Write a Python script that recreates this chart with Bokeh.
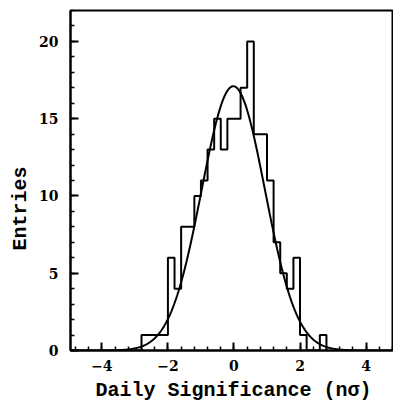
import numpy as np
from bokeh.plotting import figure
from bokeh.models import FixedTicker, Range1d, Title
from bokeh.embed import file_html
from bokeh.resources import INLINE

# Histogram data (bin width 0.2, left edges from -2.8)
bin_left = [-2.8, -2.6, -2.4, -2.2, -2.0, -1.8, -1.6, -1.4, -1.2, -1.0,
            -0.8, -0.6, -0.4, -0.2, 0.0, 0.2, 0.4, 0.6, 0.8, 1.0,
            1.2, 1.4, 1.6, 1.8, 2.0, 2.2, 2.4, 2.6]
counts = [1, 1, 1, 1, 6, 4, 8, 8, 10, 11,
          13, 15, 13, 15, 15, 17, 20, 14, 14, 11,
          7, 5, 4, 6, 1, 0, 0, 1]
bin_width = 0.2

# Gaussian fit parameters
fit_amp = 17.1
fit_mean = -0.02
fit_sigma = 0.96

x_major = [-4, -2, 0, 2, 4]
y_major = [0, 5, 10, 15, 20]

TICK_FONT = "DejaVu Serif"
LABEL_FONT = "Liberation Mono"

p = figure(width=393, height=406, output_backend="svg", toolbar_location=None,
           x_range=Range1d(-4.95, 4.8), y_range=Range1d(0, 22),
           min_border_left=70, min_border_right=1, min_border_top=10,
           min_border_bottom=56)
p.background_fill_color = "white"
p.border_fill_color = "white"
p.grid.visible = False
p.outline_line_color = "black"
p.outline_line_width = 2

# step outline of histogram
xs = [bin_left[0] - bin_width] + bin_left + [bin_left[-1] + bin_width]
ys = [0] + counts + [0]
p.step(x=xs, y=ys, mode="after", line_color="black", line_width=2)

# Gaussian curve
gx = np.linspace(-4.95, 4.8, 500)
gy = fit_amp * np.exp(-0.5 * ((gx - fit_mean) / fit_sigma) ** 2)
p.line(gx, gy, line_color="black", line_width=2)

x_minor = [round(v, 2) for v in np.arange(-4.8, 4.81, 0.4)]
y_minor = list(range(0, 23))

for ax in p.xaxis:
    ax.ticker = FixedTicker(ticks=x_major, minor_ticks=x_minor)
for ax in p.yaxis:
    ax.ticker = FixedTicker(ticks=y_major, minor_ticks=y_minor)

for ax in p.xaxis + p.yaxis:
    ax.axis_line_width = 2
    ax.major_tick_in = 8
    ax.major_tick_out = 0
    ax.minor_tick_in = 4
    ax.minor_tick_out = 0
    ax.major_tick_line_width = 2
    ax.minor_tick_line_width = 1.5
    ax.major_label_text_font = TICK_FONT
    ax.major_label_text_font_style = "bold"
    ax.major_label_text_font_size = "14px"
    ax.major_label_text_color = "black"

p.xaxis.major_label_standoff = 9
p.yaxis.major_label_standoff = 12

p.add_layout(Title(text="Daily Significance (nσ)", align="left", offset=25,
                   standoff=6, text_font=LABEL_FONT, text_font_style="bold",
                   text_font_size="20px", text_color="black"), "below")

p.add_layout(Title(text="Entries", align="left", offset=100, standoff=9,
                   text_font=LABEL_FONT, text_font_style="bold",
                   text_font_size="20px", text_color="black"), "left")

open("out.html", "w").write(file_html(p, INLINE))
